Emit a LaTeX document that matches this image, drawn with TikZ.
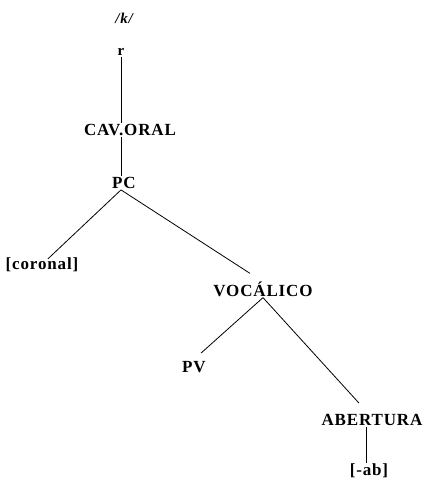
\documentclass[tikz,border=0pt]{standalone}
\usepackage{fontspec}
\newfontfamily\treefont{Liberation Serif}[LetterSpace=5]
\usepackage{tikz}
\usetikzlibrary{positioning,calc}

\begin{document}
\begin{tikzpicture}[x=1pt,y=-1pt,
  lbl/.style={font=\treefont\fontsize{17}{17}\selectfont\bfseries, inner sep=1pt},
  br/.style={line width=0.8pt}]
\useasboundingbox (0,0) rectangle (428,481);

\node[lbl,font=\treefont\fontsize{15}{15}\selectfont\bfseries\itshape] (k) at (124,18) {/k/};
\node[lbl,font=\treefont\fontsize{15}{15}\selectfont\bfseries] (r) at (121,52) {r};
\node[lbl] (cav) at (130,130) {CAV.ORAL};
\node[lbl] (pc) at (124,183) {PC};
\node[lbl] (cor) at (42,265) {[coronal]};
\node[lbl] (voc) at (263,289) {VOCÁLICO};
\node[lbl] (pv) at (194,367) {PV};
\node[lbl] (ab) at (372,420) {ABERTURA};
\node[lbl] (neg) at (369,471) {[-ab]};

\draw[br] (r.south) -- (r.south |- cav.north);
\draw[br] (cav.south -| r) -- (pc.north -| r);
\draw[br] ([xshift=-3pt]pc.south) -- ([xshift=6pt,yshift=-2pt]cor.north);
\draw[br] ([xshift=-3pt]pc.south) -- ([xshift=-13pt,yshift=7pt]voc.north);
\draw[br] (voc.south) -- ([xshift=7pt,yshift=7pt]pv.north);
\draw[br] (voc.south) -- ([xshift=-13pt,yshift=10pt]ab.north);
\draw[br] ([xshift=-6pt]ab.south) -- ([xshift=-6pt]ab.south |- neg.north);
\end{tikzpicture}
\end{document}
